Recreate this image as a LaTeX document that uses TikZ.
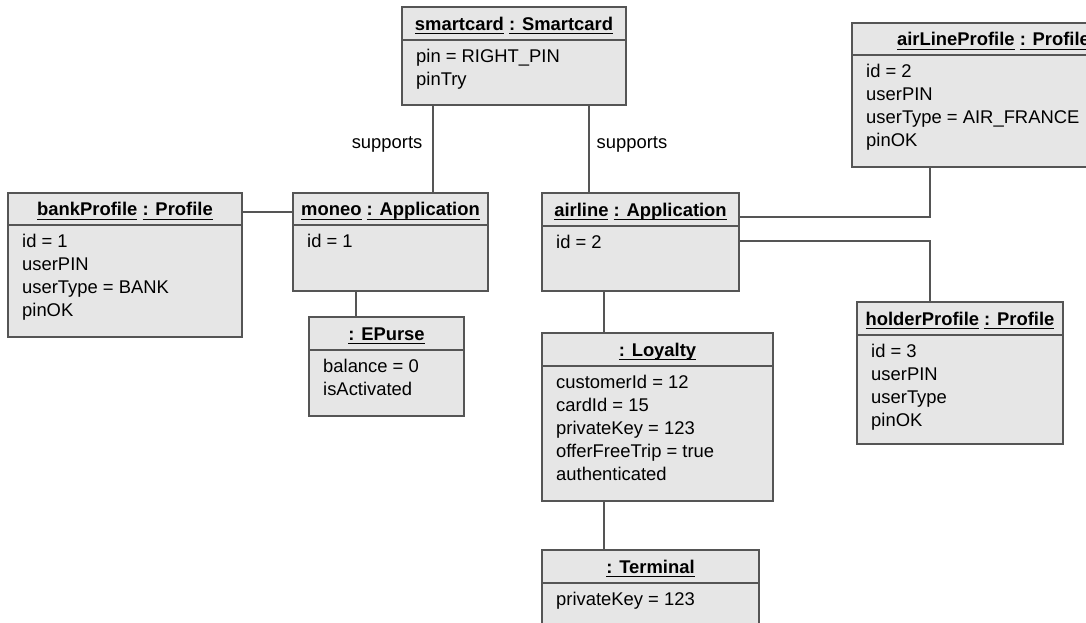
\documentclass[tikz,border=0pt]{standalone}
\usepackage{fontspec}
\setmainfont{Liberation Sans}
\definecolor{boxfill}{HTML}{E6E6E6}
\definecolor{edge}{HTML}{555555}
\newcommand\fs{\fontsize{18.4}{23.3}\selectfont}
\newcommand\ulin[1]{\leavevmode\setbox0=\hbox{#1}\rlap{\rule[-4.2pt]{\wd0}{1.3pt}}\box0\relax}
\tikzset{
  objbox/.style={draw=edge, fill=boxfill, line width=1.3pt, inner sep=0pt, outer sep=0pt},
  divider/.style={draw=edge, line width=1.3pt},
  conn/.style={draw=edge, line width=1.3pt},
  ttl/.style={font=\fs\bfseries, inner sep=0pt, anchor=base},
  attr/.style={font=\fs, inner sep=0pt, anchor=base west},
  lbl/.style={font=\fs, inner sep=0pt},
}
\newcommand\obj[8]{%
  \node[objbox, minimum width={#4-#2}, minimum height={#5-#3}, anchor=north west] (#1) at (#2,#3) {};
  \draw[divider] (#2,#6) -- (#4,#6);
  \node[ttl] (#1-title) at ({(#2+#4)/2},{(#3+#6)/2+6.6}) {#7};
  \foreach \t [count=\i] in {#8} \node[attr] (#1-a\i) at (#2+14,{#6+22.3+(\i-1)*23}) {\t};
}
\begin{document}
\begin{tikzpicture}[x=1pt,y=-1pt]
\useasboundingbox (0,0) rectangle (1086,622);
\fill[white] (0,0) rectangle (1086,622);
\clip (0,0) rectangle (1086,622);

\obj{smartcard}{402}{7}{626}{105}{40}{\ulin{smartcard} \ulin{: Smartcard}}{pin = RIGHT\_PIN, pinTry}
\obj{bank}{8}{193}{242}{337}{225}{\ulin{bankProfile} \ulin{: Profile}}{id = 1, userPIN, userType = BANK, pinOK}
\obj{moneo}{293}{193}{488}{291}{225}{\ulin{moneo} \ulin{: Application}}{id = 1}
\obj{epurse}{309}{317}{464}{416}{350}{\ulin{: EPurse}}{balance = 0, isActivated}
\obj{airline}{542}{193}{739}{291}{226}{\ulin{airline} \ulin{: Application}}{id = 2}
\obj{loyalty}{542}{333}{773}{501}{366}{\ulin{: Loyalty}}{customerId = 12, cardId = 15, privateKey = 123, offerFreeTrip = true, authenticated}
\obj{terminal}{542}{550}{759}{640}{583}{\ulin{: Terminal}}{privateKey = 123}
\obj{alp}{852}{23}{1135}{167}{55}{\ulin{airLineProfile} \ulin{: Profile}}{id = 2, userPIN, userType = AIR\_FRANCE, pinOK}
\obj{holder}{857}{302}{1063}{444}{335}{\ulin{holderProfile} \ulin{: Profile}}{id = 3, userPIN, userType, pinOK}

\draw[conn] ([xshift=31pt]smartcard.south west) -- node[lbl, pos=0.49, anchor=base east, xshift=-10pt] (sup1) {supports} ([xshift=140pt]moneo.north west);
\draw[conn] ([xshift=187pt]smartcard.south west) -- node[lbl, pos=0.49, anchor=base west, xshift=7pt] (sup2) {supports} ([xshift=47pt]airline.north west);
\draw[conn] ([yshift=-19pt]bank.north east) -- ([yshift=-19pt]moneo.north west);
\draw[conn] ([xshift=63pt]moneo.south west) -- ([xshift=47pt]epurse.north west);
\draw[conn] ([xshift=62pt]airline.south west) -- ([xshift=62pt]loyalty.north west);
\draw[conn] ([xshift=62pt]loyalty.south west) -- ([xshift=62pt]terminal.north west);
\draw[conn] ([yshift=-24pt]airline.north east) -| ([xshift=78pt]alp.south west);
\draw[conn] ([yshift=-48pt]airline.north east) -| ([xshift=73pt]holder.north west);
\end{tikzpicture}
\end{document}
